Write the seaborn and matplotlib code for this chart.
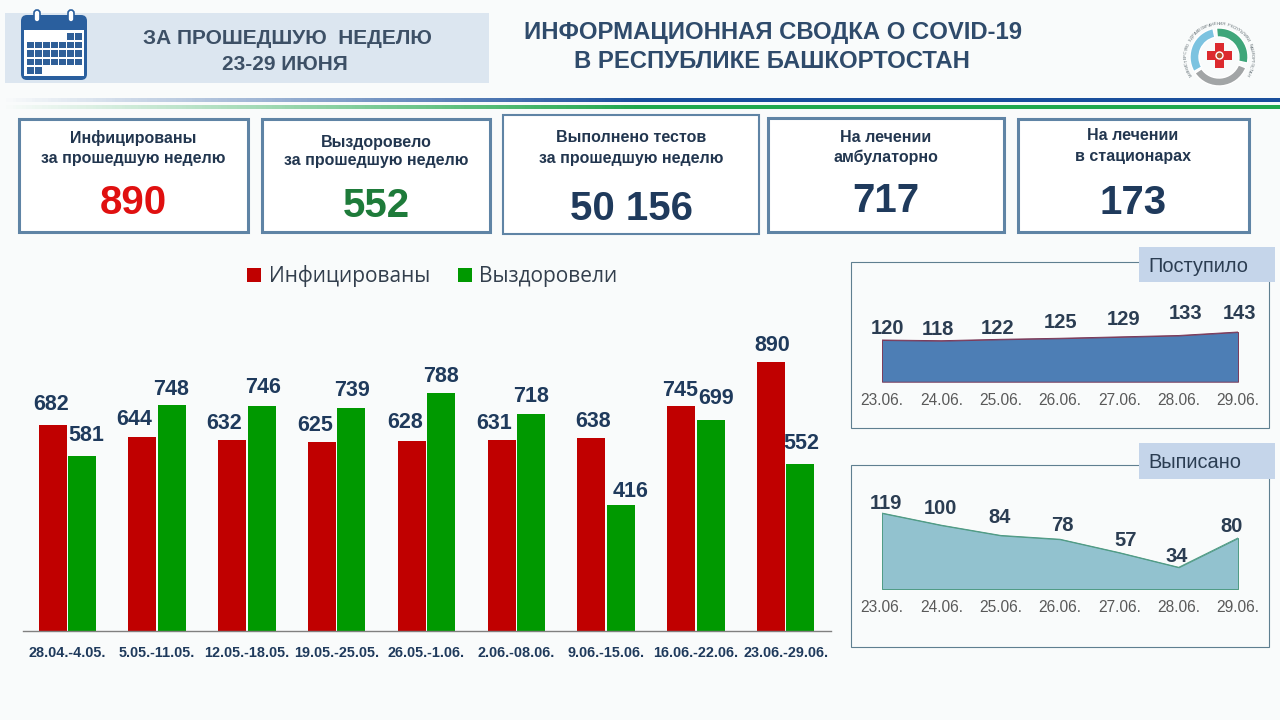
import numpy as np
import pandas as pd
import seaborn as sns
from matplotlib import pyplot as plt
from matplotlib.colors import LinearSegmentedColormap
from matplotlib.patches import Circle, FancyBboxPatch, Rectangle, Wedge

# main chart
weeks = ["28.04.-4.05.", "5.05.-11.05.", "12.05.-18.05.", "19.05.-25.05.", "26.05.-1.06.",
         "2.06.-08.06.", "9.06.-15.06.", "16.06.-22.06.", "23.06.-29.06."]
infected = [682, 644, 632, 625, 628, 631, 638, 745, 890]
recovered = [581, 748, 746, 739, 788, 718, 416, 699, 552]
series_names = ["Инфицированы", "Выздоровели"]

# nudges of the bar labels, px
infected_dx = [-2, -8, -8, -7, -7, -7, 2, -1, 1]
infected_dy = [21, 17, 17, 17, 19, 17, 17, 16, 17]
recovered_dx = [4, -1, 1, 1, 0, 0, 10, 5, 1]
recovered_dy = [20, 16, 18, 17, 17, 18, 14, 21, 21]

# small charts
days = ["23.06.", "24.06.", "25.06.", "26.06.", "27.06.", "28.06.", "29.06."]
admitted = [120, 118, 122, 125, 129, 133, 143]
discharged = [119, 100, 84, 78, 57, 34, 80]

# nudges of the small chart labels, px
admitted_dx = [5, -3, -3, 1, 4, 7, 2]
admitted_dy = [12, 11, 11, 16, 17, 22, 19]
discharged_dx = [4, -1, -1, 2, 6, -2, -6]
discharged_dy = [10, 17, 18, 14, 12, 11, 11]

# cards
card_lines = [("Инфицированы", "за прошедшую неделю"), ("Выздоровело", "за прошедшую неделю"),
              ("Выполнено тестов", "за прошедшую неделю"), ("На лечении", "амбулаторно"),
              ("На лечении", "в стационарах")]
card_values = ["890", "552", "50 156", "717", "173"]

BG = "#F9FBFB"
NAVY = "#1F3A5C"
RED = "#C00000"
GREEN = "#009900"

sns.set_theme(style="white")
plt.rcParams["font.family"] = ["Liberation Sans", "DejaVu Sans"]

fig = plt.figure(figsize=(12.8, 7.2), dpi=100, facecolor=BG)


def axes_px(x0, y0, x1, y1):
    return fig.add_axes([x0 / 1280, 1 - y1 / 720, (x1 - x0) / 1280, (y1 - y0) / 720])


# overlay in pixel coordinates for the page furniture
page = axes_px(0, 0, 1280, 720)
page.set_xlim(0, 1280)
page.set_ylim(720, 0)
page.axis("off")


def box(x0, y0, x1, y1, face, edge="none", lw=0):
    page.add_patch(Rectangle((x0, y0), x1 - x0, y1 - y0, facecolor=face, edgecolor=edge, linewidth=lw))


# header
box(5, 13, 489, 83, "#DCE6F0")
page.text(287, 38, "ЗА ПРОШЕДШУЮ  НЕДЕЛЮ", ha="center", va="center", fontsize=15, fontweight="bold", color="#3D5066")
page.text(285, 65, "23-29 ИЮНЯ", ha="center", va="center", fontsize=15, fontweight="bold", color="#3D5066")
page.text(773, 32, "ИНФОРМАЦИОННАЯ СВОДКА О COVID-19", ha="center", va="center", fontsize=17.2, fontweight="bold", color="#2F4B6B")
page.text(772, 61, "В РЕСПУБЛИКЕ БАШКОРТОСТАН", ha="center", va="center", fontsize=17.2, fontweight="bold", color="#2F4B6B")

# calendar icon
page.add_patch(FancyBboxPatch((21, 15), 66, 65, boxstyle="round,pad=0,rounding_size=6", facecolor="#2A5F9E", edgecolor="none"))
box(24, 30, 84, 76, "white")
for rx in [37, 71]:
    page.add_patch(FancyBboxPatch((rx - 3, 10), 6, 12, boxstyle="round,pad=0,rounding_size=3", facecolor="white", edgecolor="#2A5F9E", linewidth=1.2))
for row, cols in enumerate([range(6, 8), range(7), range(7), range(7), range(2)]):
    for col in cols:
        cx = col - 1 if row == 0 else col
        box(27 + cx * 8, 33 + row * 8.5, 27 + cx * 8 + 6.7, 33 + row * 8.5 + 6.7, "#2F5F98")

# logo
page.add_patch(Wedge((1219, 57), 29, 265, 372, width=9, facecolor="#3FA67A"))
page.add_patch(Wedge((1219, 57), 29, 150, 258, width=9, facecolor="#7CC3E0"))
page.add_patch(Wedge((1219, 57), 29, 22, 146, width=8, facecolor="#A2A5A6"))
ring_text = "МИНИСТЕРСТВО ЗДРАВООХРАНЕНИЯ РЕСПУБЛИКИ БАШКОРТОСТАН"
for ch, t in zip(ring_text, np.linspace(150, 390, len(ring_text))):
    page.text(1219 + 33 * np.cos(np.radians(t)), 57 + 33 * np.sin(np.radians(t)), ch, rotation=270 - t,
              ha="center", va="center", fontsize=3, color="#5E6A70")
box(1215, 43, 1224, 68, "#DC2A2E")
box(1207, 51, 1232, 60, "#DC2A2E")
page.add_patch(Circle((1219.5, 55.5), 3.5, facecolor="#B5502A"))

# gradient rules
for y0, y1, colour in [(98, 102, "#1A4F9C"), (105, 109, "#22A84E")]:
    cmap = LinearSegmentedColormap.from_list("fade", [BG, colour, colour])
    page.imshow(np.linspace(0, 1, 400).reshape(1, -1), extent=(0, 1280, y1, y0), cmap=cmap, aspect="auto")
page.set_xlim(0, 1280)
page.set_ylim(720, 0)

# cards
card_boxes = [(19, 119, 248, 232), (262, 119, 490, 232), (503, 115, 759, 234), (768, 118, 1004, 232), (1018, 119, 1249, 232)]
card_centers = [133, 376, 631, 886, 1133]
card_line_y = [(138, 158), (142, 161), (137, 158), (138, 157), (136, 156)]
card_value_y = [203, 206, 209, 201, 203]
card_colours = ["#E01010", "#1E7B3A", NAVY, NAVY, NAVY]
for i, (x0, y0, x1, y1) in enumerate(card_boxes):
    box(x0, y0, x1, y1, "white", "#5F84A5", 1.5 if i == 2 else 2.2)
    for line, ly in zip(card_lines[i], card_line_y[i]):
        page.text(card_centers[i], ly, line, ha="center", va="center", fontsize=11.5, fontweight="bold", color="#22364F")
    page.text(card_centers[i], card_value_y[i], card_values[i], ha="center", va="center", fontsize=29, fontweight="bold", color=card_colours[i])

# main bars
ax = axes_px(22.5, 331, 830.5, 631)
ax.patch.set_alpha(0)
df = pd.DataFrame({"week": weeks, series_names[0]: infected, series_names[1]: recovered})
long_df = df.melt(id_vars="week", var_name="series", value_name="count")
sns.barplot(data=long_df, x="week", y="count", hue="series", palette=[RED, GREEN], saturation=1,
            width=0.657, gap=0.05, linewidth=0, ax=ax)
ax.set_ylim(0, 300 / 0.302)
ax.set_xlim(-0.5, len(weeks) - 0.5)
ax.set_xlabel("")
ax.set_ylabel("")
ax.set_yticks([])
sns.despine(ax=ax, left=True)
ax.spines["bottom"].set_color("#808080")
ax.spines["bottom"].set_linewidth(1.0)
ax.tick_params(axis="x", length=0, pad=11)
for label in ax.get_xticklabels():
    label.set_fontsize(10.4)
    label.set_fontweight("bold")
    label.set_color(NAVY)
for cont, dxs, dys in zip(ax.containers, [infected_dx, recovered_dx], [infected_dy, recovered_dy]):
    labels = ax.bar_label(cont, fontsize=15.5, fontweight="bold", color=NAVY)
    for t, ox, oy in zip(labels, dxs, dys):
        t.set_va("center")
        t.xyann = (ox * 0.72, oy * 0.72)
sns.move_legend(ax, "center", bbox_to_anchor=(410 / 808, (631 - 276) / 300), ncol=2, frameon=False, title=None,
                handlelength=0.67, handleheight=0.67, columnspacing=1.3, handletextpad=0.38,
                prop={"family": "Open Sans", "size": 15})
for text in ax.get_legend().get_texts():
    text.set_color("#333F4D")


def small_chart(values, dx, dy, y_base, scale, ymax, fill, edge):
    sub = axes_px(882, y_base - ymax * scale, 1238, y_base)
    sub.patch.set_alpha(0)
    xs = list(range(len(days)))
    sub.fill_between(xs, values, 0, facecolor=fill, edgecolor=edge, linewidth=0.7)
    sns.lineplot(x=xs, y=values, color=edge, linewidth=0.7, ax=sub)
    sub.set_xlim(0, len(days) - 1)
    sub.set_ylim(0, ymax)
    sub.set_yticks([])
    sub.set_xticks(xs)
    sub.set_xticklabels(days, fontsize=11.2, color="#595959")
    sub.tick_params(axis="x", length=0, pad=8)
    sns.despine(ax=sub, left=True, bottom=True)
    for x, v, ox, oy in zip(xs, values, dx, dy):
        sub.annotate(str(v), (x, v), xytext=(ox * 0.72, oy * 0.72), textcoords="offset points", ha="center", va="center",
                     fontsize=14.5, fontweight="bold", color="#2B3D52")


# small panels
box(851, 262, 1269, 428, BG, "#5F7F90", 0.8)
box(851, 465, 1269, 647, BG, "#5F7F90", 0.8)
box(1139, 247, 1275, 282, "#C5D5EA")
box(1139, 443, 1275, 479, "#C5D5EA")
page.text(1148, 266, "Поступило", ha="left", va="center", fontsize=14.4, color="#2B3D52")
page.text(1148, 463, "Выписано", ha="left", va="center", fontsize=14.4, color="#2B3D52")
small_chart(admitted, admitted_dx, admitted_dy, 381.7, 0.3475, 200, "#4D7EB5", "#7A3A5A")
small_chart(discharged, discharged_dx, discharged_dy, 589, 0.638, 150, "#92C2CF", "#4E9A84")

fig.savefig("out.png", dpi=100, facecolor=BG)
